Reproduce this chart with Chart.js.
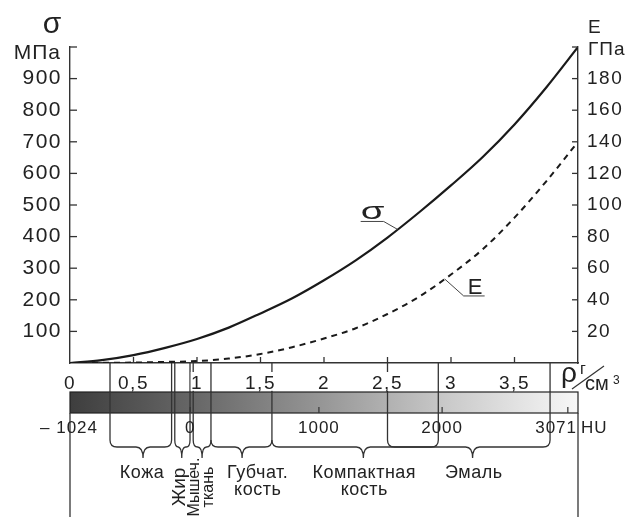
<!DOCTYPE html>
<html>
<head>
<meta charset="utf-8">
<script src="https://cdn.jsdelivr.net/npm/chart.js@4"></script>
<style>
  html, body { margin: 0; padding: 0; background: #fff; }
  #wrap { width: 629px; height: 517px; }
</style>
</head>
<body>
<div id="wrap"><canvas id="grafico"></canvas></div>
<script>
// density, g/cm3
const rho = [0, 0.25, 0.5, 0.75, 1, 1.25, 1.5, 1.75, 2, 2.25, 2.5, 2.75, 3, 3.25, 3.5, 3.75, 4]
// strength, MPa
const sigma = [0, 9, 25, 48, 76, 112, 157, 205, 262, 325, 397, 477, 562, 652, 755, 872, 1000]
// elastic modulus, GPa
const modE = [0, 0.1, 0.3, 0.7, 1.2, 2.8, 5.7, 10, 15.5, 22, 31, 42, 56, 72, 92, 115, 140]

const rhoTicks = [0, 0.5, 1, 1.5, 2, 2.5, 3, 3.5]
const sigmaTicks = [100, 200, 300, 400, 500, 600, 700, 800, 900]
const eTicks = [20, 40, 60, 80, 100, 120, 140, 160, 180]

// Hounsfield scale under the density axis
const huValues = [-1024, 0, 1000, 2000, 3071]
const huAtRho = [0, 0.946, 1.96, 2.93, 3.92]

// tissue boundaries and ranges (in rho)
const borders = [0.315, 0.8, 0.825, 0.945, 0.97, 1.11, 1.59, 2.5, 2.9, 3.78]
const tissueNames = [["Кожа"], ["Жир"], ["Мышеч.", "ткань"], ["Губчат.", "кость"], ["Компактная", "кость"], ["Эмаль"]]
const tissueFrom = [0.315, 0.825, 0.97, 1.11, 1.59, 2.5]
const tissueTo = [0.8, 0.945, 1.11, 1.59, 2.9, 3.78]
const tissueTip = [0.575, 0.88, 1.04, 1.355, 2.31, 3.17]
const tissueLabelAt = [0.567, 0.867, 1.036, 1.478, 2.317, 3.18]

const sigmaLabelRho = 2.58
const eLabelRho = 2.95

const FONT = '"Liberation Sans", Arial, sans-serif'
const INK = "#222"

function interp(xs, ys, x){
  for (let i = 1; i < xs.length; i++){
    if (x <= xs[i]){
      const t = (x - xs[i-1]) / (xs[i] - xs[i-1])
      return ys[i-1] + t * (ys[i] - ys[i-1])
    }
  }
  return ys[ys.length-1]
}

function line(ctx, x1, y1, x2, y2){
  ctx.beginPath()
  ctx.moveTo(x1, y1)
  ctx.lineTo(x2, y2)
  ctx.stroke()
}

function brace(ctx, x1, x2, tip, yTop){
  const r = Math.min(7, (x2 - x1) / 4)
  const yH = yTop + 7
  const tipY = yH + 11
  ctx.beginPath()
  ctx.moveTo(x1, yTop)
  ctx.quadraticCurveTo(x1, yH, x1 + r, yH)
  ctx.lineTo(tip - r, yH)
  ctx.quadraticCurveTo(tip, yH, tip, tipY)
  ctx.moveTo(x2, yTop)
  ctx.quadraticCurveTo(x2, yH, x2 - r, yH)
  ctx.lineTo(tip + r, yH)
  ctx.quadraticCurveTo(tip, yH, tip, tipY)
  ctx.stroke()
}

const bonePlugin = {
  id: "bone",
  beforeDraw(chart){
    const ctx = chart.ctx
    const x = chart.scales.x
    const a = chart.chartArea
    ctx.save()
    ctx.strokeStyle = "#333"
    ctx.lineWidth = 1.3
    // border lines between axis and bar (tick labels cover them)
    borders.forEach(b => line(ctx, x.getPixelForValue(b), a.bottom, x.getPixelForValue(b), a.bottom + 29))
    ctx.restore()
    ctx.letterSpacing = "1.5px"
  },
  afterDraw(chart){
    const ctx = chart.ctx
    const x = chart.scales.x, yS = chart.scales.y, yE = chart.scales.y2
    const a = chart.chartArea
    const barTop = a.bottom + 29, barH = 21, barBot = barTop + barH
    const braceTop = a.bottom + 77
    ctx.save()
    ctx.letterSpacing = "0px"

    // inward ticks
    ctx.strokeStyle = "#333"
    ctx.lineWidth = 1.3
    sigmaTicks.concat([1000]).forEach(v => line(ctx, a.left, yS.getPixelForValue(v), a.left + 7, yS.getPixelForValue(v)))
    eTicks.concat([200]).forEach(v => line(ctx, a.right, yE.getPixelForValue(v), a.right - 6, yE.getPixelForValue(v)))
    rhoTicks.slice(1).forEach(v => line(ctx, x.getPixelForValue(v), a.bottom, x.getPixelForValue(v), a.bottom - 6))

    // gray density bar
    const g = ctx.createLinearGradient(a.left, 0, a.right, 0)
    g.addColorStop(0, "#3e3e3e")
    g.addColorStop(0.25, "#686868")
    g.addColorStop(0.5, "#979797")
    g.addColorStop(0.75, "#cbcbcb")
    g.addColorStop(1, "#f7f7f7")
    ctx.fillStyle = g
    ctx.fillRect(a.left, barTop, a.right - a.left, barH)
    ctx.strokeStyle = "#222"
    ctx.lineWidth = 1.2
    ctx.strokeRect(a.left, barTop, a.right - a.left, barH)

    // HU ticks
    ctx.strokeStyle = "#333"
    huAtRho.slice(1).forEach(r => line(ctx, x.getPixelForValue(r), barBot, x.getPixelForValue(r), barBot - 6))

    // boundary lines through bar down to braces
    ctx.lineWidth = 1.3
    borders.forEach(b => line(ctx, x.getPixelForValue(b), barTop, x.getPixelForValue(b), braceTop))
    line(ctx, a.left, barBot, a.left, chart.height)
    line(ctx, a.right, barBot, a.right, chart.height)

    // HU labels
    ctx.fillStyle = INK
    ctx.font = "17px " + FONT
    ctx.letterSpacing = "1px"
    ctx.textBaseline = "alphabetic"
    huValues.forEach((v, i) => {
      const px = x.getPixelForValue(huAtRho[i])
      if (i === huValues.length - 1){
        ctx.textAlign = "right"
        ctx.fillText(String(v), a.right - 1, barBot + 20)
        ctx.textAlign = "left"
        ctx.fillText("HU", a.right + 3, barBot + 20)
      } else {
        ctx.textAlign = "center"
        ctx.fillText(v < 0 ? "– " + Math.abs(v) : String(v), px - (v < 0 ? 1 : 0), barBot + 20)
      }
    })
    ctx.letterSpacing = "0px"

    // braces + tissue names
    ctx.strokeStyle = "#333"
    ctx.lineWidth = 1.3
    tissueNames.forEach((names, i) => {
      const x1 = x.getPixelForValue(tissueFrom[i]), x2 = x.getPixelForValue(tissueTo[i])
      brace(ctx, x1, x2, x.getPixelForValue(tissueTip[i]), braceTop)
      const lx = x.getPixelForValue(tissueLabelAt[i])
      ctx.fillStyle = INK
      if (x2 - x1 < 30){
        ctx.save()
        ctx.font = (names.length > 1 ? "16px " : "19px ") + FONT
        ctx.translate(lx, braceTop + 47)
        ctx.rotate(-Math.PI / 2)
        ctx.textAlign = "center"
        ctx.textBaseline = "middle"
        names.forEach((t, j) => ctx.fillText(t, 0, (j - (names.length - 1) / 2) * 14))
        ctx.restore()
      } else {
        ctx.font = "18px " + FONT
        ctx.letterSpacing = "0.5px"
        ctx.textAlign = "center"
        ctx.textBaseline = "alphabetic"
        names.forEach((t, j) => ctx.fillText(t, lx, braceTop + 38 + j * 17))
        ctx.letterSpacing = "0px"
      }
    })

    // axis headings
    ctx.fillStyle = INK
    ctx.textBaseline = "alphabetic"
    ctx.font = "30px " + FONT
    ctx.textAlign = "center"
    ctx.fillText("σ", a.left - 18, a.top - 14)
    ctx.font = "21px " + FONT
    ctx.textAlign = "right"
    ctx.letterSpacing = "1px"
    ctx.fillText("МПа", a.left - 9, a.top + 12)
    ctx.textAlign = "left"
    ctx.font = "19px " + FONT
    ctx.fillText("ГПа", a.right + 10, a.top + 8)
    ctx.font = "19px " + FONT
    ctx.fillText("E", a.right + 10, a.top - 14)
    ctx.letterSpacing = "0px"

    // density unit
    const ux = a.right
    ctx.font = "28px " + FONT
    ctx.textAlign = "right"
    ctx.fillText("ρ", ux - 1, a.bottom + 19)
    ctx.textAlign = "left"
    ctx.font = "16px " + FONT
    ctx.fillText("г", ux + 2, a.bottom + 11)
    ctx.font = "20px " + FONT
    ctx.fillText("см", ux + 7, a.bottom + 27)
    ctx.font = "12px " + FONT
    ctx.fillText("3", ux + 35, a.bottom + 21)
    ctx.lineWidth = 1.2
    line(ctx, ux - 6, a.bottom + 26, ux + 26, a.bottom + 3)

    // curve labels
    ctx.strokeStyle = "#444"
    ctx.lineWidth = 1
    const sx = x.getPixelForValue(sigmaLabelRho), sy = yS.getPixelForValue(interp(rho, sigma, sigmaLabelRho))
    line(ctx, sx, sy, sx - 14, sy - 8)
    line(ctx, sx - 14, sy - 8, sx - 37, sy - 8)
    ctx.save()
    ctx.translate(sx - 25, sy - 10)
    ctx.scale(1.6, 1)
    ctx.font = "24px " + FONT
    ctx.textAlign = "center"
    ctx.fillText("σ", 0, 0)
    ctx.restore()

    const ex = x.getPixelForValue(eLabelRho), ey = yE.getPixelForValue(interp(rho, modE, eLabelRho))
    line(ctx, ex, ey, ex + 19, ey + 17)
    line(ctx, ex + 19, ey + 17, ex + 40, ey + 17)
    ctx.font = "22px " + FONT
    ctx.textAlign = "left"
    ctx.fillText("E", ex + 23, ey + 15)

    ctx.restore()
  }
}

const ctx = document.getElementById("grafico").getContext("2d")
new Chart(ctx, {
  type: "line",
  data: {
    datasets: [
      {
        label: "σ",
        data: rho.map((r, i) => ({ x: r, y: sigma[i] })),
        borderColor: "#1a1a1a",
        borderWidth: 2.2,
        pointRadius: 0,
        cubicInterpolationMode: "monotone",
        yAxisID: "y",
      },
      {
        label: "E",
        data: rho.map((r, i) => ({ x: r, y: modE[i] })),
        borderColor: "#1a1a1a",
        borderWidth: 2,
        borderDash: [6, 5],
        pointRadius: 0,
        cubicInterpolationMode: "monotone",
        yAxisID: "y2",
      },
    ],
  },
  options: {
    responsive: true,
    maintainAspectRatio: false,
    animation: false,
    layout: { padding: { top: 47, left: 0, right: 0, bottom: 0 } },
    plugins: { legend: { display: false }, tooltip: { enabled: false } },
    scales: {
      x: {
        type: "linear",
        position: "bottom",
        min: 0,
        max: 4,
        afterBuildTicks: s => { s.ticks = rhoTicks.concat([4]).map(v => ({ value: v })) },
        afterFit: s => { s.height = 154 },
        grid: { display: false, drawTicks: false },
        border: { color: "#333", width: 1.4 },
        ticks: {
          padding: 9,
          color: INK,
          font: { family: FONT, size: 19 },
          maxRotation: 0,
          autoSkip: false,
          showLabelBackdrop: true,
          backdropColor: "#fff",
          backdropPadding: { top: 0, bottom: -4, left: 1, right: 1 },
          callback: v => v === 4 ? "" : String(v).replace(".", ","),
        },
      },
      y: {
        position: "left",
        min: 0,
        max: 1000,
        afterBuildTicks: s => { s.ticks = sigmaTicks.concat([1000]).map(v => ({ value: v })) },
        afterFit: s => { s.width = 70 },
        grid: { display: false, drawTicks: false },
        border: { color: "#333", width: 1.4 },
        ticks: {
          padding: 8,
          color: INK,
          font: { family: FONT, size: 21 },
          callback: v => v === 1000 ? "" : v,
        },
      },
      y2: {
        position: "right",
        min: 0,
        max: 200,
        afterBuildTicks: s => { s.ticks = eTicks.concat([200]).map(v => ({ value: v })) },
        afterFit: s => { s.width = 51 },
        grid: { display: false, drawTicks: false },
        border: { color: "#333", width: 1.4 },
        ticks: {
          padding: 9,
          color: INK,
          font: { family: FONT, size: 19 },
          callback: v => v === 200 ? "" : v,
        },
      },
    },
  },
  plugins: [bonePlugin],
})
</script>
</body>
</html>
